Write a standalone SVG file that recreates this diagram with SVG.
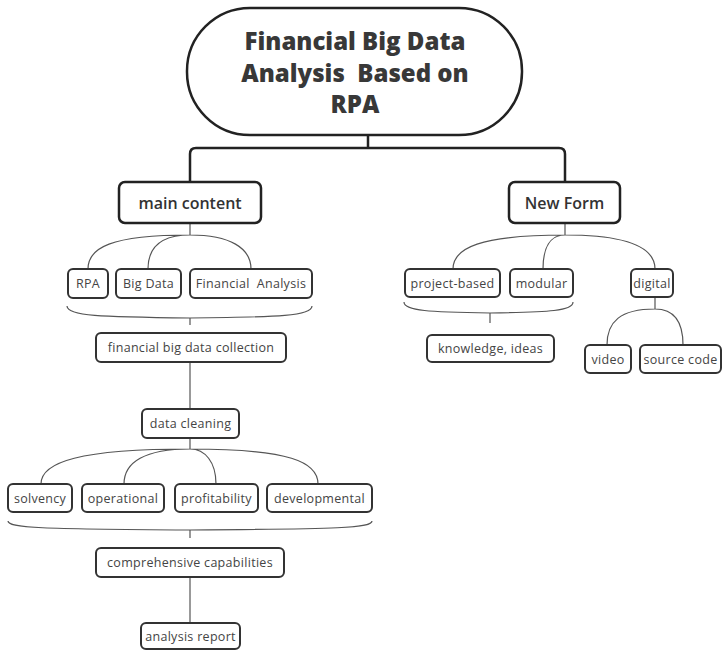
<svg xmlns="http://www.w3.org/2000/svg" width="722" height="650" viewBox="0 0 722 650">
<style>
.box{fill:#fff;stroke:#333;stroke-width:2}
.big{fill:#fff;stroke:#222;stroke-width:2.5}
.t{font-family:"Open Sans","Liberation Sans",sans-serif;font-size:12.5px;letter-spacing:0.3px;fill:#444;text-anchor:middle;dominant-baseline:central;white-space:pre}
.m{font-family:"Open Sans","Liberation Sans",sans-serif;font-size:16px;font-weight:600;fill:#333;text-anchor:middle;dominant-baseline:central}
.r{font-family:"Open Sans","Liberation Sans",sans-serif;font-size:24px;font-weight:800;fill:#383838;text-anchor:middle;white-space:pre}
.c{fill:none;stroke:#555;stroke-width:1.2}
.c2{fill:none;stroke:#222;stroke-width:2.5}
</style>
<rect width="722" height="650" fill="#fff"/>
<g id="connectors">
<path class="c2" d="M368,135 V148 M196,148 H559 Q565,148 565,154 V182 M196,148 Q190,148 190,154 V182"/>
<path class="c" d="M190,223 V235 M190,235 C110,235 88,248 88,269 M190,235 C160,235 148,248 148,269 M190,235 C230,235 251,248 251,269"/>
<path class="c" d="M67,306 C67,316 100,317 190,318 C280,317 312,316 312,306 M190,318 V325"/>
<path class="c" d="M190,362 V409"/>
<path class="c" d="M190,438 V449 M190,449 C80,449 41,462 41,484 M190,449 C145,449 124,462 124,484 M190,449 C205,449 216,462 216,484 M190,449 C290,449 318,462 318,484"/>
<path class="c" d="M8,521 C8,528 40,529 190,530 C340,529 372,528 372,521 M190,530 V538"/>
<path class="c" d="M190,577 V623"/>
<path class="c" d="M565,223 V235 M565,235 C480,235 453,248 453,269 M565,235 C550,235 543,248 543,269 M565,235 C630,235 655,248 655,269"/>
<path class="c" d="M404,302 C404,311 430,312 490,313 C550,312 573,311 573,302 M490,313 V323"/>
<path class="c" d="M655,297 V309 M655,309 C620,309 607,322 607,345 M655,309 C675,309 683,322 683,345"/>
</g>
<g id="root">
<rect class="big" x="187" y="8" width="335" height="127" rx="63"/>
<text class="r" x="355" y="50">Financial Big Data</text>
<text class="r" x="355" y="82">Analysis  Based on</text>
<text class="r" x="355" y="113">RPA</text>
</g>
<g id="main-content"><rect class="big" x="119" y="182" width="142" height="41" rx="6"/><text class="m" x="190" y="202.5">main content</text></g>
<g id="new-form"><rect class="big" x="509" y="182" width="111" height="41" rx="6"/><text class="m" x="564.5" y="202.5">New Form</text></g>
<g id="rpa"><rect class="box" x="68" y="269" width="40" height="29" rx="5"/><text class="t" x="88" y="283.5">RPA</text></g>
<g id="big-data"><rect class="box" x="116" y="269" width="65" height="29" rx="5"/><text class="t" x="148.5" y="283.5">Big Data</text></g>
<g id="financial-analysis"><rect class="box" x="190" y="269" width="122" height="29" rx="5"/><text class="t" x="251" y="283.5">Financial  Analysis</text></g>
<g id="collection"><rect class="box" x="96" y="333" width="190" height="29" rx="5"/><text class="t" x="191" y="347.5">financial big data collection</text></g>
<g id="cleaning"><rect class="box" x="142" y="409" width="97" height="29" rx="5"/><text class="t" x="190.5" y="423.5">data cleaning</text></g>
<g id="solvency"><rect class="box" x="8" y="484" width="64" height="28" rx="5"/><text class="t" x="40" y="498">solvency</text></g>
<g id="operational"><rect class="box" x="82" y="484" width="82" height="28" rx="5"/><text class="t" x="123" y="498">operational</text></g>
<g id="profitability"><rect class="box" x="175" y="484" width="83" height="28" rx="5"/><text class="t" x="216.5" y="498">profitability</text></g>
<g id="developmental"><rect class="box" x="267" y="484" width="105" height="28" rx="5"/><text class="t" x="319.5" y="498">developmental</text></g>
<g id="comprehensive"><rect class="box" x="96" y="548" width="188" height="29" rx="5"/><text class="t" x="190" y="562.5">comprehensive capabilities</text></g>
<g id="report"><rect class="box" x="141" y="623" width="99" height="26" rx="5"/><text class="t" x="190.5" y="636">analysis report</text></g>
<g id="project-based"><rect class="box" x="405" y="269" width="95" height="28" rx="5"/><text class="t" x="452.5" y="283">project-based</text></g>
<g id="modular"><rect class="box" x="510" y="269" width="63" height="28" rx="5"/><text class="t" x="541.5" y="283">modular</text></g>
<g id="digital"><rect class="box" x="631" y="269" width="42" height="28" rx="5"/><text class="t" x="652" y="283">digital</text></g>
<g id="knowledge"><rect class="box" x="427" y="335" width="127" height="27" rx="5"/><text class="t" x="490.5" y="348.5">knowledge, ideas</text></g>
<g id="video"><rect class="box" x="585" y="345" width="46" height="28" rx="5"/><text class="t" x="608" y="359">video</text></g>
<g id="source-code"><rect class="box" x="640" y="345" width="81" height="28" rx="5"/><text class="t" x="680.5" y="359">source code</text></g>
</svg>
